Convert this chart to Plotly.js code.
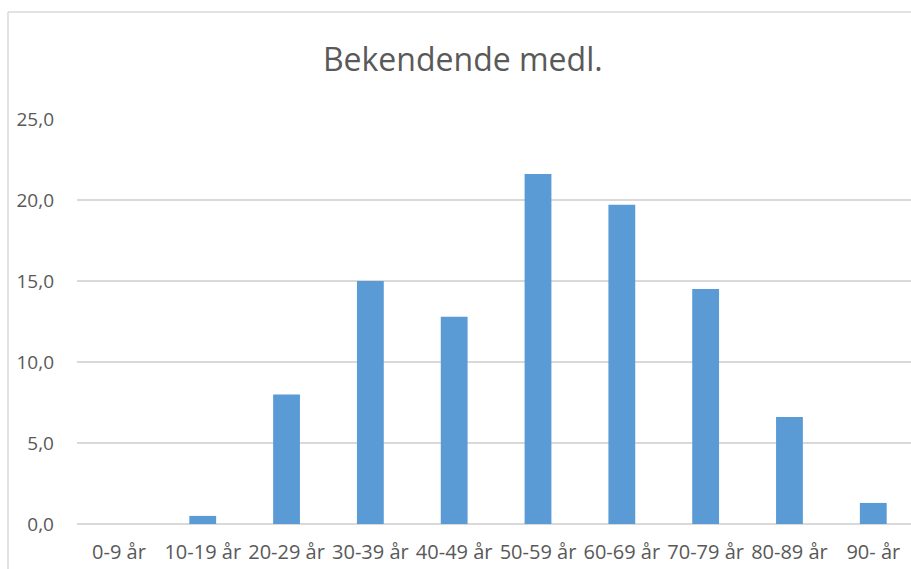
<!DOCTYPE html>
<html>
<head>
<meta charset="utf-8">
<script src="https://cdn.plot.ly/plotly-3.0.1.min.js"></script>
<style>html,body{margin:0;padding:0;background:#fff;}#chart{width:911px;height:569px;}</style>
</head>
<body>
<div id="chart"></div>
<script>
const categories = ["0-9 år", "10-19 år", "20-29 år", "30-39 år", "40-49 år", "50-59 år", "60-69 år", "70-79 år", "80-89 år", "90- år"];
const values = [0.0, 0.5, 8.0, 15.0, 12.8, 21.6, 19.7, 14.5, 6.6, 1.3];
const yTicks = [0, 5, 10, 15, 20, 25];
const chartTitle = "Bekendende medl.";

const font = "Open Sans, Noto Sans, sans-serif";
const textColor = "#595959";
const gridColor = "#D9D9D9";

const trace = {
  type: "bar",
  x: categories,
  y: values,
  marker: {color: "#5B9BD5"},
  hoverinfo: "skip"
};

const layout = {
  width: 911,
  height: 569,
  margin: {l: 77, r: 0, t: 119, b: 45, pad: 0},
  paper_bgcolor: "#ffffff",
  plot_bgcolor: "#ffffff",
  separators: ",.",
  showlegend: false,
  bargap: 0.68,
  title: {
    text: chartTitle,
    font: {family: font, size: 32, color: textColor},
    xref: "container",
    x: 0.508,
    xanchor: "center",
    yref: "container",
    y: 1 - 60 / 569,
    yanchor: "middle"
  },
  xaxis: {
    type: "category",
    range: [-0.5, 9.45],
    showgrid: false,
    zeroline: false,
    showline: false,
    ticks: "",
    tickangle: 0,
    tickfont: {family: font, size: 20, color: textColor},
    ticklabelstandoff: 14,
    fixedrange: true
  },
  yaxis: {
    range: [0, 25],
    tickvals: yTicks,
    tickformat: ".1f",
    showgrid: true,
    gridcolor: gridColor,
    gridwidth: 1.3,
    zeroline: true,
    zerolinecolor: gridColor,
    zerolinewidth: 1.3,
    showline: false,
    ticks: "",
    tickfont: {family: font, size: 19, color: textColor},
    ticklabelstandoff: 22,
    fixedrange: true
  },
  shapes: [
    {type: "line", xref: "paper", yref: "paper",
     x0: (8 - 77) / 834, x1: (911 - 77) / 834,
     y0: (524 - 12) / 405, y1: (524 - 12) / 405,
     line: {color: gridColor, width: 1.5}},
    {type: "line", xref: "paper", yref: "paper",
     x0: (8 - 77) / 834, x1: (8 - 77) / 834,
     y0: (524 - 569) / 405, y1: (524 - 12) / 405,
     line: {color: gridColor, width: 1.5}}
  ]
};

Plotly.newPlot("chart", [trace], layout, {staticPlot: true, displayModeBar: false});
</script>
</body>
</html>
